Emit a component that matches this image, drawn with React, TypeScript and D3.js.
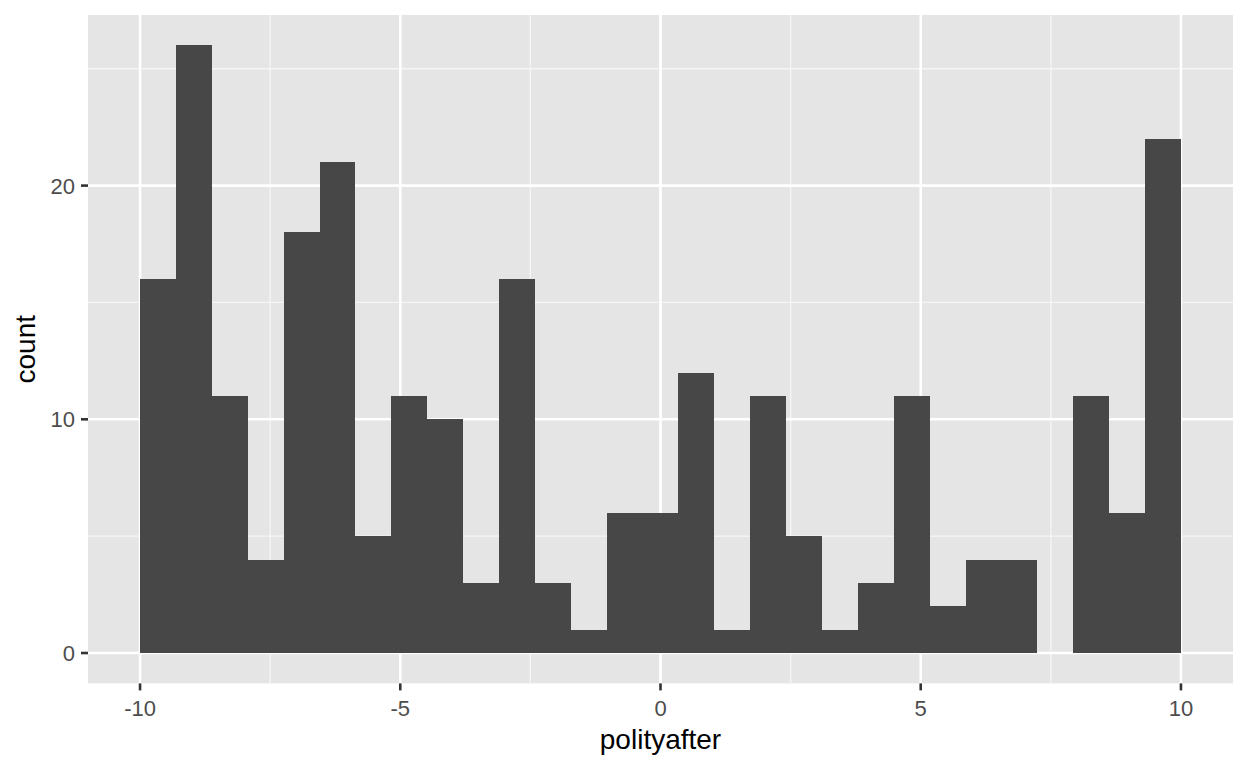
import React from "react";
import * as d3 from "d3";

const counts: number[] = [16, 26, 11, 4, 18, 21, 5, 11, 10, 3, 16, 3, 1, 6, 6, 12, 1, 11, 5, 1, 3, 11, 2, 4, 4, 0, 11, 6, 22];
const xRange: [number, number] = [-10, 10];
const xTicks: number[] = [-10, -5, 0, 5, 10];
const xMinor: number[] = [-7.5, -2.5, 2.5, 7.5];
const yTicks: number[] = [0, 10, 20];
const yMinor: number[] = [5, 15, 25];
const xTitle = "polityafter";
const yTitle = "count";

const W = 1248;
const H = 768;
const panel = { left: 88, right: 1233, top: 15, bottom: 683.4 };
const FONT = "'Liberation Sans', Arial, Helvetica, sans-serif";

export default function App() {
  const span = xRange[1] - xRange[0];
  const x = d3
    .scaleLinear()
    .domain([xRange[0] - span * 0.05, xRange[1] + span * 0.05])
    .range([panel.left, panel.right]);
  const yMax = d3.max(counts) as number;
  const y = d3
    .scaleLinear()
    .domain([-yMax * 0.05, yMax * 1.05])
    .range([panel.bottom, panel.top]);
  const bw = span / counts.length;
  const bins = counts.map((c, i) => ({ x0: xRange[0] + i * bw, x1: xRange[0] + (i + 1) * bw, c }));

  return (
    <svg
      width={W}
      height={H}
      style={{ position: "absolute", left: 0, top: 0, display: "block" }}
      fontFamily={FONT}
    >
      <rect x={0} y={0} width={W} height={H} fill="#ffffff" />
      <rect
        x={panel.left}
        y={panel.top}
        width={panel.right - panel.left}
        height={panel.bottom - panel.top}
        fill="#E5E5E5"
      />
      {xMinor.map((v) => (
        <line key={"xm" + v} x1={x(v)} x2={x(v)} y1={panel.top} y2={panel.bottom} stroke="#F5F5F5" strokeWidth={1.3} />
      ))}
      {yMinor.map((v) => (
        <line key={"ym" + v} x1={panel.left} x2={panel.right} y1={y(v)} y2={y(v)} stroke="#F5F5F5" strokeWidth={1.3} />
      ))}
      {xTicks.map((v) => (
        <line key={"xM" + v} x1={x(v)} x2={x(v)} y1={panel.top} y2={panel.bottom} stroke="#ffffff" strokeWidth={2.6} />
      ))}
      {yTicks.map((v) => (
        <line key={"yM" + v} x1={panel.left} x2={panel.right} y1={y(v)} y2={y(v)} stroke="#ffffff" strokeWidth={2.6} />
      ))}
      <g shapeRendering="crispEdges">
        {bins
          .filter((b) => b.c > 0)
          .map((b, i) => (
            <rect
              key={"b" + i}
              x={x(b.x0)}
              width={x(b.x1) - x(b.x0)}
              y={y(b.c)}
              height={y(0) - y(b.c)}
              fill="#474747"
            />
          ))}
      </g>
      {xTicks.map((v) => (
        <g key={"xt" + v}>
          <line x1={x(v)} x2={x(v)} y1={panel.bottom} y2={panel.bottom + 7} stroke="#333333" strokeWidth={2.6} />
          <text x={x(v)} y={716} textAnchor="middle" fontSize={22} fill="#4D4D4D">
            {v}
          </text>
        </g>
      ))}
      {yTicks.map((v) => (
        <g key={"yt" + v}>
          <line x1={panel.left - 7} x2={panel.left} y1={y(v)} y2={y(v)} stroke="#333333" strokeWidth={2.6} />
          <text x={75} y={y(v)} dy="0.36em" textAnchor="end" fontSize={22} fill="#4D4D4D">
            {v}
          </text>
        </g>
      ))}
      <text x={(panel.left + panel.right) / 2} y={749} textAnchor="middle" fontSize={28} fill="#000000">
        {xTitle}
      </text>
      <text
        transform={`translate(35, ${(panel.top + panel.bottom) / 2}) rotate(-90)`}
        textAnchor="middle"
        fontSize={28}
        fill="#000000"
      >
        {yTitle}
      </text>
    </svg>
  );
}
